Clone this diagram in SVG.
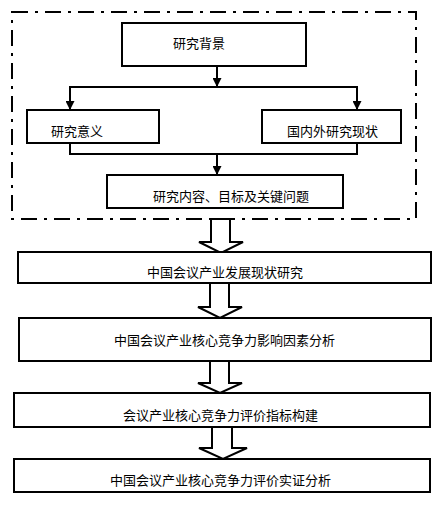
<svg xmlns="http://www.w3.org/2000/svg" width="448" height="509" viewBox="0 0 448 509">
<style>
.box{fill:#fff;stroke:#000;stroke-width:2}
.t{font-family:"Noto Sans CJK SC","Liberation Sans",sans-serif;font-size:13px;fill:#000}
.ln{fill:none;stroke:#000;stroke-width:2}
.blk{fill:#fff;stroke:#000;stroke-width:2;stroke-linejoin:miter}
.frame{fill:none;stroke:#000;stroke-width:2;stroke-dasharray:16 7 3 7}
</style>
<defs>
<marker id="ah" viewBox="0 0 10 10" refX="10" refY="5" markerWidth="4.5" markerHeight="4.5" orient="auto" markerUnits="strokeWidth">
<path d="M0,0 L10,5 L0,10 z" fill="#000"/>
</marker>
</defs>
<rect width="448" height="509" fill="#fff"/>
<rect class="frame" x="12" y="12" width="404" height="207"/>
<g id="connectors">
<path class="ln" d="M217,66 V87" marker-end="url(#ah)"/>
<path class="ln" d="M70,110 V87 H357 V110" />
<path class="ln" d="M70,87 V110" marker-end="url(#ah)"/>
<path class="ln" d="M357,87 V110" marker-end="url(#ah)"/>
<path class="ln" d="M70,143 V154 H357 V143"/>
<path class="ln" d="M217,154 V175" marker-end="url(#ah)"/>
<polygon class="blk" points="211,219 230,219 230,242 243,242 221,253 199,242 211,242"/>
<polygon class="blk" points="210,283 229,283 229,307 242,307 220,318 198,307 210,307"/>
<polygon class="blk" points="210,361 229,361 229,383 242,383 220,393 198,383 210,383"/>
<polygon class="blk" points="212,427 232,427 232,448 247,448 223,459 199,448 212,448"/>
</g>
<g id="n1"><rect class="box" x="122" y="23" width="184" height="43"/><text class="t" x="173" y="48">研究背景</text></g>
<g id="n2"><rect class="box" x="27" y="110" width="132" height="33"/><text class="t" x="51" y="136">研究意义</text></g>
<g id="n3"><rect class="box" x="262" y="110" width="139" height="33"/><text class="t" x="287" y="136">国内外研究现状</text></g>
<g id="n4"><rect class="box" x="107" y="175" width="236" height="33"/><text class="t" x="153" y="201">研究内容、目标及关键问题</text></g>
<g id="n5"><rect class="box" x="18" y="252" width="413" height="31"/><text class="t" x="147" y="277">中国会议产业发展现状研究</text></g>
<g id="n6"><rect class="box" x="19" y="318" width="412" height="43"/><text class="t" x="114" y="345">中国会议产业核心竞争力影响因素分析</text></g>
<g id="n7"><rect class="box" x="14" y="393" width="416" height="34"/><text class="t" x="123" y="420">会议产业核心竞争力评价指标构建</text></g>
<g id="n8"><rect class="box" x="14" y="459" width="416" height="33"/><text class="t" x="110" y="485">中国会议产业核心竞争力评价实证分析</text></g>
</svg>
